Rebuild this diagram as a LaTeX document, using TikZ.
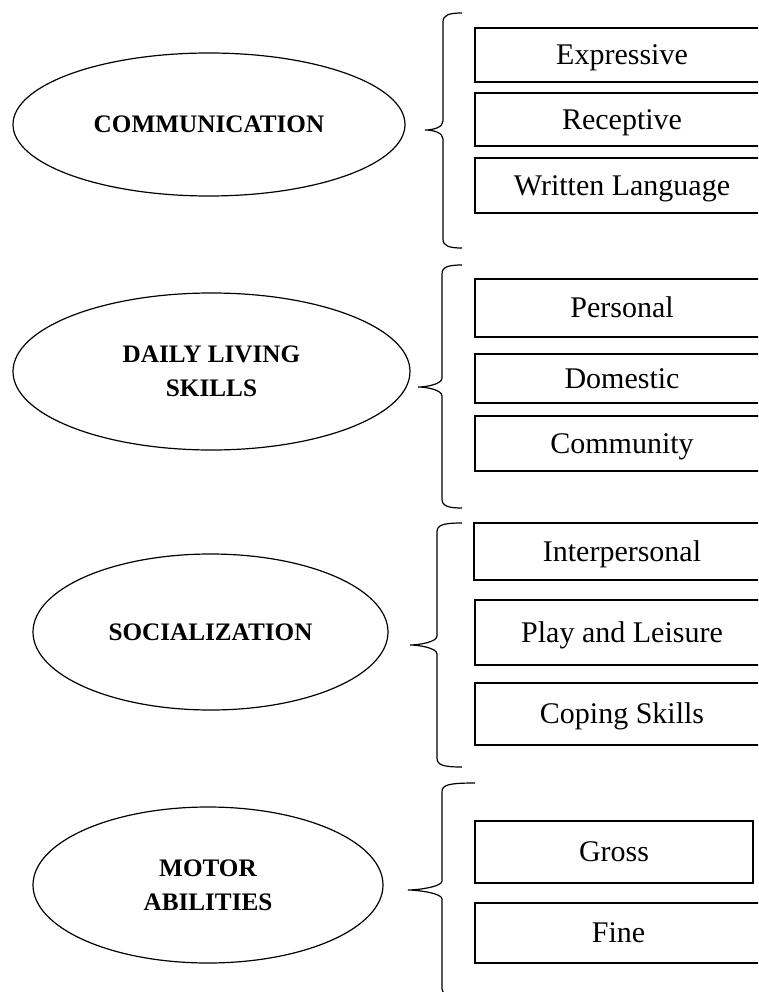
\documentclass[tikz,border=0pt]{standalone}
\usepackage{fontspec}
\setmainfont{Liberation Serif}
\usetikzlibrary{shapes.geometric}
\tikzset{
  cat/.style={draw, ellipse, line width=1.2pt, inner sep=0pt, align=center,
    font=\fontsize{25.2}{34}\selectfont\bfseries},
  sub/.style={draw, rectangle, line width=1.2pt, inner sep=0pt,
    font=\fontsize{30}{34}\selectfont, text height=19.6pt, text depth=0pt},
  brc/.style={line width=1.2pt}
}
% #1 vertical x, #2 top y, #3 middle y, #4 bottom y, #5 tail x, #6 tip x
\newcommand\mybrace[6]{%
  \draw[brc] ({#5},{#2}) .. controls ({#1+6},{#2}) and ({#1},{#2+2}) .. ({#1},{#2+9})
    -- ({#1},{#3-9})
    .. controls ({#1},{#3-3}) and ({#6+9},{#3}) .. ({#6},{#3})
    .. controls ({#6+9},{#3}) and ({#1},{#3+3}) .. ({#1},{#3+9})
    -- ({#1},{#4-9})
    .. controls ({#1},{#4-2}) and ({#1+6},{#4}) .. ({#5},{#4});}
\begin{document}
\begin{tikzpicture}[x=1pt,y=-1pt]
\path[use as bounding box, clip] (0,0) rectangle (758,992);
\fill[white] (0,0) rectangle (758,992);

% categories
\node[cat, minimum width=392pt, minimum height=143pt] (comm) at (209,124.5) {COMMUNICATION};
\node[cat, minimum width=397pt, minimum height=157pt] (daily) at (211.5,371.5) {DAILY LIVING\\SKILLS};
\node[cat, minimum width=355pt, minimum height=156pt] (soc) at (210.5,632) {SOCIALIZATION};
\node[cat, minimum width=350pt, minimum height=156pt] (motor) at (208,885) {MOTOR\\ABILITIES};

% braces
\mybrace{443}{13}{130}{248}{462}{425}
\mybrace{442}{265}{387}{508}{462}{418}
\mybrace{437}{523}{645}{767}{462}{410}
\mybrace{442}{783}{890}{997}{475}{408}

% sub-domains
\node[sub, minimum width=294pt, minimum height=54pt] (expr) at (622,55) {Expressive};
\node[sub, minimum width=294pt, minimum height=53pt] (rec) at (622,119.5) {Receptive};
\node[sub, minimum width=294pt, minimum height=55pt] (writ) at (622,185.5) {Written Language};

\node[sub, minimum width=294pt, minimum height=58pt] (pers) at (622,308) {Personal};
\node[sub, minimum width=294pt, minimum height=49pt] (dom) at (622,378.5) {Domestic};
\node[sub, minimum width=294pt, minimum height=55pt] (commun) at (622,443.5) {Community};

\node[sub, minimum width=296pt, minimum height=57pt] (inter) at (622,551.5) {Interpersonal};
\node[sub, minimum width=294pt, minimum height=65pt] (play) at (622,632.5) {Play and Leisure};
\node[sub, minimum width=294pt, minimum height=62pt] (cope) at (622,714) {Coping Skills};

\node[sub, minimum width=278pt, minimum height=62pt] (gross) at (614,852) {Gross};
\node[sub, minimum width=287pt, minimum height=60pt] (fine) at (618.5,933) {Fine};
\end{tikzpicture}
\end{document}
